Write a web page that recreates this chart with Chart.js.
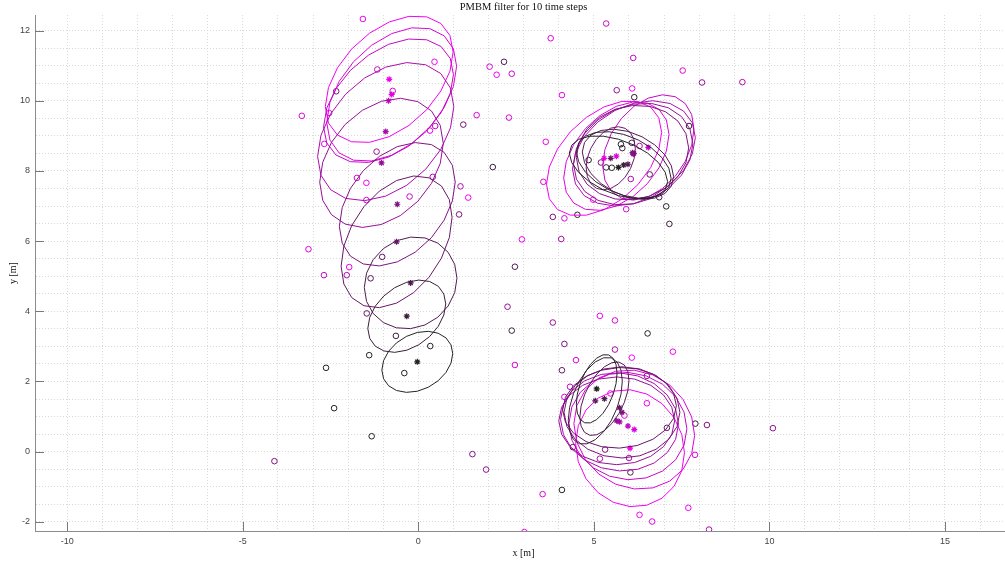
<!DOCTYPE html>
<html>
<head>
<meta charset="utf-8">
<script src="https://cdn.jsdelivr.net/npm/chart.js@4.4.1/dist/chart.umd.min.js"></script>
<style>
  html, body { margin: 0; padding: 0; overflow: hidden; background: #fff; }
  #wrap { width: 1047px; height: 562px; }
</style>
</head>
<body>
<div id="wrap"><canvas id="pmbm" width="1047" height="562"></canvas></div>
<script>
// axis grid / tick values
let xGridValues = [-10, -9, -8, -7, -6, -5, -4, -3, -2, -1, 0, 1, 2, 3, 4, 5, 6, 7, 8, 9, 10, 11, 12, 13, 14, 15, 16];
let xLabelValues = [-10, -5, 0, 5, 10, 15];
let yGridValues = [-2, -1.5, -1, -0.5, 0, 0.5, 1, 1.5, 2, 2.5, 3, 3.5, 4, 4.5, 5, 5.5, 6, 6.5, 7, 7.5, 8, 8.5, 9, 9.5, 10, 10.5, 11, 11.5, 12];
let yLabelValues = [-2, 0, 2, 4, 6, 8, 10, 12];

// measurements per time step [x, y]
let meas1 = [[-0.4, 2.24], [0.34, 3.01], [-2.63, 2.39], [-1.4, 2.75], [-2.4, 1.24], [-1.33, 0.44], [6.15, 10.1], [7.06, 6.99], [5.77, 8.76], [5.51, 8.09], [6.53, 3.37], [4.09, -1.09]];
let meas2 = [[-0.64, 3.3], [2.12, 8.11], [7.71, 9.28], [4.53, 6.75], [7.15, 6.49], [5.81, 8.65], [5.35, 8.1], [4.85, 8.31], [2.66, 3.45], [7.89, 0.8]];
let meas3 = [[-1.36, 4.94], [2.44, 11.11], [6.86, 7.25], [2.75, 5.27], [6.08, 8.8], [6.59, 7.9], [4.4, 0.13], [6.04, -0.59]];
let meas4 = [[-1.47, 3.94], [-1.03, 5.55], [1.28, 9.32], [4.09, 2.32], [7.08, 0.68]];
let meas5 = [[-2.34, 10.27], [1.16, 6.76], [1.54, -0.07], [-4.1, -0.27], [3.83, 6.69], [5.2, 8.24], [4.16, 3.07], [8.22, 0.76], [5.32, 0.06]];
let meas6 = [[-1.19, 8.55], [1.93, -0.51], [5.65, 10.3], [8.08, 10.52], [2.54, 4.13], [3.83, 3.68], [6.51, 2.16], [10.1, 0.67]];
let meas7 = [[4.07, 6.06], [6.05, 7.77], [5.6, 2.91], [5.17, -0.2], [8.28, -2.22], [6.0, -0.18], [-2.04, 5.03], [0.41, 7.83], [1.2, 7.56], [9.23, 10.53]];
let meas8 = [[-2.69, 5.03], [5.35, 12.2], [6.12, 11.22], [-1.17, 10.89], [0.48, 9.28], [-0.25, 7.27], [2.66, 10.77], [6.3, 8.71], [4.32, 1.85]];
let meas9 = [[2.03, 10.97], [-0.73, 10.28], [-3.32, 9.57], [1.66, 9.59], [0.33, 9.15], [-1.75, 7.8], [-1.48, 7.17], [-3.13, 5.77], [3.77, 11.78], [7.53, 10.86], [2.58, 9.52], [3.56, 7.69], [4.16, 6.65], [5.92, 6.91], [5.6, 3.74], [2.75, 2.47], [4.49, 2.61], [4.16, 1.56], [5.87, 1.03], [7.88, -0.09], [3.54, -1.21], [6.66, -1.99]];
let meas10 = [[-1.58, 12.33], [0.46, 11.11], [2.23, 10.74], [-2.54, 9.65], [-2.68, 8.77], [-1.48, 7.66], [1.42, 7.24], [-1.97, 5.26], [4.09, 10.16], [6.09, 10.35], [3.63, 8.83], [4.98, 7.18], [2.95, 6.05], [5.17, 3.87], [7.25, 2.85], [6.08, 2.68], [5.47, 1.66], [6.51, 1.38], [7.69, -1.6], [6.3, -1.8], [3.02, -2.29]];
let measurements = [meas1, meas2, meas3, meas4, meas5, meas6, meas7, meas8, meas9, meas10];

// estimates (mean) per time step, three targets
let estAx = [-0.03, -0.33, -0.22, -0.62, -0.6, -1.05, -0.93, -0.85, -0.76, -0.83];
let estAy = [2.56, 3.86, 4.81, 5.98, 7.05, 8.23, 9.12, 10.0, 10.18, 10.61];
let estBx = [5.7, 5.85, 5.97, 5.48, 6.1, 6.12, 6.14, 6.55, 5.64, 5.29];
let estBy = [8.1, 8.17, 8.19, 8.36, 8.52, 8.48, 8.5, 8.67, 8.42, 8.36];
let estCx = [5.08, 5.04, 5.3, 5.73, 5.8, 5.65, 5.73, 5.97, 6.15, 6.03];
let estCy = [1.79, 1.45, 1.51, 1.25, 1.12, 0.88, 0.85, 0.73, 0.63, 0.1];

// covariance ellipses: std x, std y, correlation
let covAsx = [1.01, 1.11, 1.32, 1.58, 1.65, 1.76, 1.94, 1.85, 1.85, 1.82];
let covAsy = [0.87, 1.03, 1.31, 1.88, 1.76, 1.84, 1.97, 1.77, 1.91, 1.81];
let covArho = [0.27, 0.34, 0.1, 0.37, 0.36, 0.3, 0.36, 0.42, 0.42, 0.43];
let covBsx = [1.4, 1.35, 1.3, 0.7, 1.6, 1.7, 1.75, 1.3, 1.5, 1.64];
let covBsy = [0.9, 0.95, 1.0, 0.9, 1.35, 1.45, 1.5, 1.5, 1.55, 1.64];
let covBrho = [-0.45, -0.4, -0.35, 0.3, 0.1, 0.2, 0.3, 0.35, 0.4, 0.45];
let covCsx = [0.58, 0.77, 0.7, 1.62, 1.65, 1.65, 1.68, 1.68, 1.72, 1.55];
let covCsy = [0.98, 1.24, 1.05, 1.15, 1.3, 1.25, 1.4, 1.53, 1.7, 1.67];
let covCrho = [0.45, 0.45, 0.5, 0.05, 0.0, 0.0, -0.05, -0.05, -0.1, -0.08];

function stepColor(k) {
    let c = Math.round(35 + 23 * k);
    let g = Math.round(35 * (9 - k) / 9);
    return 'rgb(' + c + ',' + g + ',' + c + ')';
}

// ellipse outline from mean and covariance
function ellipse(cx, cy, sx, sy, rho) {
    let pts = [];
    let n = 20;
    let l22 = sy * Math.sqrt(1 - rho * rho);
    for (let i = 0; i <= n; i++) {
        let t = 2 * Math.PI * i / n;
        pts.push({x: cx + sx * Math.cos(t), y: cy + rho * sy * Math.cos(t) + l22 * Math.sin(t)});
    }
    return pts;
}

let targets = [
    [estAx, estAy, covAsx, covAsy, covArho],
    [estBx, estBy, covBsx, covBsy, covBrho],
    [estCx, estCy, covCsx, covCsy, covCrho]
];

let datasets = [];
for (let k = 0; k < 10; k++) {
    targets.forEach(function(t) {
        datasets.push({
            type: 'line',
            data: ellipse(t[0][k], t[1][k], t[2][k], t[3][k], t[4][k]),
            borderColor: stepColor(k),
            borderWidth: 1,
            pointRadius: 0,
            tension: 0,
            fill: false
        });
    });
}
for (let k = 0; k < 10; k++) {
    datasets.push({
        type: 'scatter',
        data: measurements[k].map(function(p) {return {x: p[0], y: p[1]};}),
        pointStyle: 'circle',
        pointRadius: 2.8,
        borderWidth: 1,
        borderColor: stepColor(k),
        backgroundColor: 'rgba(0,0,0,0)'
    });
    datasets.push({
        type: 'scatter',
        data: targets.map(function(t) {return {x: t[0][k], y: t[1][k]};}),
        pointStyle: 'star',
        pointRadius: 3,
        borderWidth: 1.2,
        borderColor: stepColor(k),
        backgroundColor: stepColor(k)
    });
}

let inwardTicks = {
    id: 'inwardTicks',
    afterDraw: function(chart) {
        let ctx = chart.ctx, area = chart.chartArea;
        ctx.save();
        ctx.strokeStyle = '#7a7a7a';
        ctx.lineWidth = 1;
        xLabelValues.forEach(function(v) {
            let px = Math.round(chart.scales.x.getPixelForValue(v)) + 0.5;
            ctx.beginPath(); ctx.moveTo(px, area.bottom); ctx.lineTo(px, area.bottom - 9); ctx.stroke();
        });
        yLabelValues.forEach(function(v) {
            let py = Math.round(chart.scales.y.getPixelForValue(v)) + 0.5;
            ctx.beginPath(); ctx.moveTo(area.left, py); ctx.lineTo(area.left + 9, py); ctx.stroke();
        });
        ctx.restore();
    }
};

let tickFont = {family: 'Liberation Sans, Arial, sans-serif', size: 9};
let serifFont = {family: 'Liberation Serif, Times New Roman, serif', size: 10, weight: 'normal'};

let pmbm = new Chart(document.getElementById('pmbm'), {
    data: {datasets: datasets},
    options: {
        responsive: false,
        animation: false,
        layout: {padding: {left: 0, right: 35, top: 0, bottom: 0}},
        plugins: {
            legend: {display: false},
            tooltip: {enabled: false},
            title: {
                display: true,
                fullSize: false,
                text: 'PMBM filter for 10 time steps',
                color: '#111',
                font: {family: 'Liberation Serif, Times New Roman, serif', size: 10.5, weight: 'normal'},
                padding: {top: 1, bottom: 1.5}
            }
        },
        scales: {
            x: {
                type: 'linear',
                min: -10.92,
                max: 16.91,
                afterBuildTicks: function(scale) {
                    scale.ticks = xGridValues.map(function(v) {return {value: v};});
                },
                afterFit: function(scale) { scale.height = 31; },
                ticks: {
                    autoSkip: false,
                    maxRotation: 0,
                    padding: 5,
                    color: '#444',
                    font: tickFont,
                    callback: function(v) { return xLabelValues.indexOf(v) >= 0 ? String(v) : ''; }
                },
                grid: {color: '#d8d8d8', drawTicks: false, lineWidth: 1},
                border: {display: true, color: '#8c8c8c', width: 1, dash: [1, 2]},
                title: {display: true, text: 'x [m]', color: '#111', font: serifFont, padding: {top: 0, bottom: 3}}
            },
            y: {
                type: 'linear',
                min: -2.26,
                max: 12.44,
                afterBuildTicks: function(scale) {
                    scale.ticks = yGridValues.map(function(v) {return {value: v};});
                },
                afterFit: function(scale) { scale.width = 35; },
                ticks: {
                    autoSkip: false,
                    padding: 5,
                    color: '#444',
                    font: tickFont,
                    callback: function(v) { return yLabelValues.indexOf(v) >= 0 ? String(v) : ''; }
                },
                grid: {color: '#d8d8d8', drawTicks: false, lineWidth: 1},
                border: {display: true, color: '#8c8c8c', width: 1, dash: [1, 2]},
                title: {display: true, text: 'y [m]', color: '#111', font: serifFont, padding: {top: 7, bottom: 0}}
            }
        }
    },
    plugins: [inwardTicks]
});
</script>
</body>
</html>
